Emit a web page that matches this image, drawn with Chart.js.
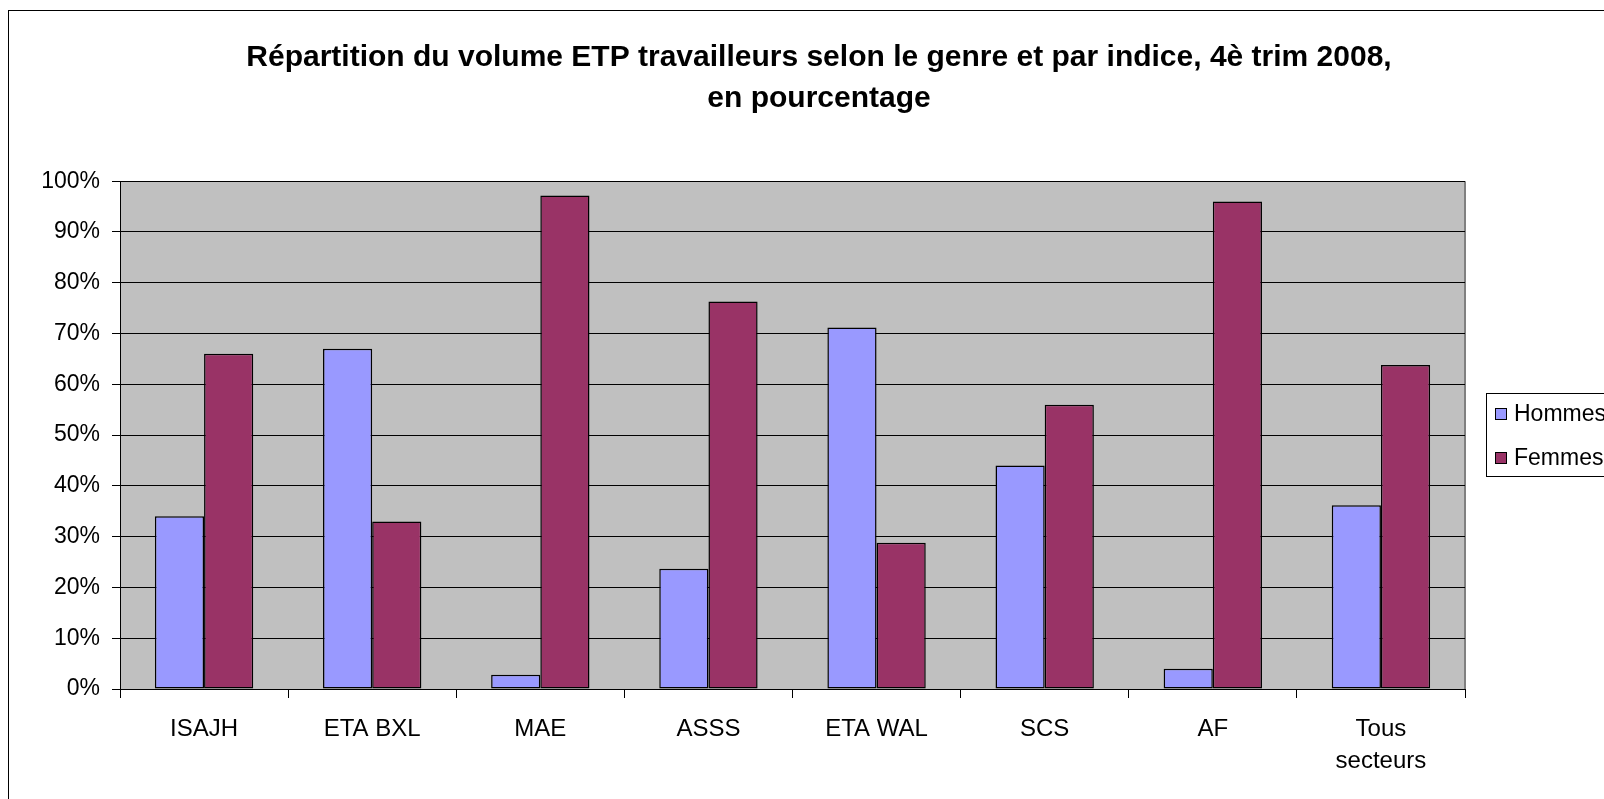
<!DOCTYPE html>
<html>
<head>
<meta charset="utf-8">
<script src="https://cdn.jsdelivr.net/npm/chart.js@4/dist/chart.umd.min.js"></script>
<style>
  html, body { margin: 0; padding: 0; background: #fff; }
  #wrap { width: 1604px; height: 799px; }
</style>
</head>
<body>
<div id="wrap"><canvas id="myChart" width="1604" height="799"></canvas></div>
<script>
const categories = ["ISAJH", "ETA BXL", "MAE", "ASSS", "ETA WAL", "SCS", "AF", ["Tous", "secteurs"]];
const hommes = [34, 67, 2.8, 23.7, 71.2, 44, 4, 36.2];
const femmes = [66, 33, 97.2, 76.3, 28.8, 56, 96, 63.8];
const seriesNames = ["Hommes", "Femmes"];
const seriesColors = ["#9999FF", "#993366"];

const fontFamily = "'Liberation Sans', Arial, sans-serif";

// gray plot background + frame around the whole chart
const background = {
    id: "background",
    beforeDraw(chart) {
        const ctx = chart.ctx;
        const a = chart.chartArea;
        ctx.save();
        ctx.fillStyle = "#fff";
        ctx.fillRect(0, 0, chart.width, chart.height);
        ctx.strokeStyle = "#000";
        ctx.lineWidth = 1;
        ctx.strokeRect(8.5, 10.5, 1800, 900);
        ctx.fillStyle = "#C0C0C0";
        ctx.fillRect(a.left, a.top, a.right - a.left, a.bottom - a.top);
        ctx.strokeStyle = "#808080";
        ctx.lineWidth = 2;
        ctx.beginPath();
        ctx.moveTo(a.right, a.top);
        ctx.lineTo(a.right, a.bottom);
        ctx.stroke();
        ctx.restore();
    }
};

// boxed legend like the spreadsheet one
const boxLegend = {
    id: "boxLegend",
    afterDraw(chart) {
        const ctx = chart.ctx;
        const x = 1486.5, y = 393.5;
        ctx.save();
        ctx.strokeStyle = "#000";
        ctx.lineWidth = 1;
        ctx.fillStyle = "#fff";
        ctx.fillRect(x, y, 200, 83);
        ctx.strokeRect(x, y, 200, 83);
        ctx.font = "23px " + fontFamily;
        ctx.textBaseline = "middle";
        chart.data.datasets.forEach((ds, i) => {
            const cy = 414 + i * 44;
            ctx.fillStyle = ds.backgroundColor;
            ctx.fillRect(1495, cy - 5, 11, 11);
            ctx.strokeRect(1495.5, cy - 5.5, 11, 11);
            ctx.fillStyle = "#000";
            ctx.fillText(ds.label, 1514, cy + 1);
        });
        ctx.restore();
    }
};

new Chart("myChart", {
    type: "bar",
    data: {
        labels: categories,
        datasets: [
            {
                label: seriesNames[0],
                data: hommes,
                backgroundColor: seriesColors[0],
                borderColor: "#000",
                borderWidth: 1.5,
                borderSkipped: false
            },
            {
                label: seriesNames[1],
                data: femmes,
                backgroundColor: seriesColors[1],
                borderColor: "#000",
                borderWidth: 1.5,
                borderSkipped: false
            }
        ]
    },
    options: {
        responsive: false,
        animation: false,
        devicePixelRatio: 1,
        categoryPercentage: 0.585,
        barPercentage: 1.0,
        layout: {
            padding: { left: 34, right: 0, top: 0, bottom: 0 }
        },
        scales: {
            x: {
                offset: true,
                grid: {
                    offset: true,
                    drawOnChartArea: false,
                    drawTicks: true,
                    tickLength: 9,
                    color: "#000"
                },
                border: { color: "#000", width: 1 },
                ticks: {
                    color: "#000",
                    padding: 15,
                    maxRotation: 0,
                    font: { size: 24, family: fontFamily, lineHeight: 1.35 }
                },
                afterFit(scale) { scale.height = 110; }
            },
            y: {
                min: 0,
                max: 100,
                grid: {
                    color: "#000",
                    tickLength: 8,
                    lineWidth: 1
                },
                border: { color: "#000", width: 1 },
                ticks: {
                    stepSize: 10,
                    color: "#000",
                    padding: 12,
                    font: { size: 23, family: fontFamily },
                    callback: (v) => v + "%"
                },
                afterFit(scale) { scale.width = 86; }
            },
            // empty right-hand room for the legend box
            yRight: {
                position: "right",
                display: true,
                grid: { display: false },
                border: { display: false },
                ticks: { display: false },
                afterFit(scale) { scale.width = 139; }
            }
        },
        plugins: {
            legend: { display: false },
            tooltip: { enabled: false },
            title: {
                display: true,
                text: ["Répartition du volume ETP travailleurs selon le genre et par indice, 4è trim 2008,", "en pourcentage"],
                color: "#000",
                font: { size: 30, weight: "bold", family: fontFamily, lineHeight: 1.37 },
                padding: { top: 37, bottom: 62 }
            }
        }
    },
    plugins: [background, boxLegend]
});
</script>
</body>
</html>
